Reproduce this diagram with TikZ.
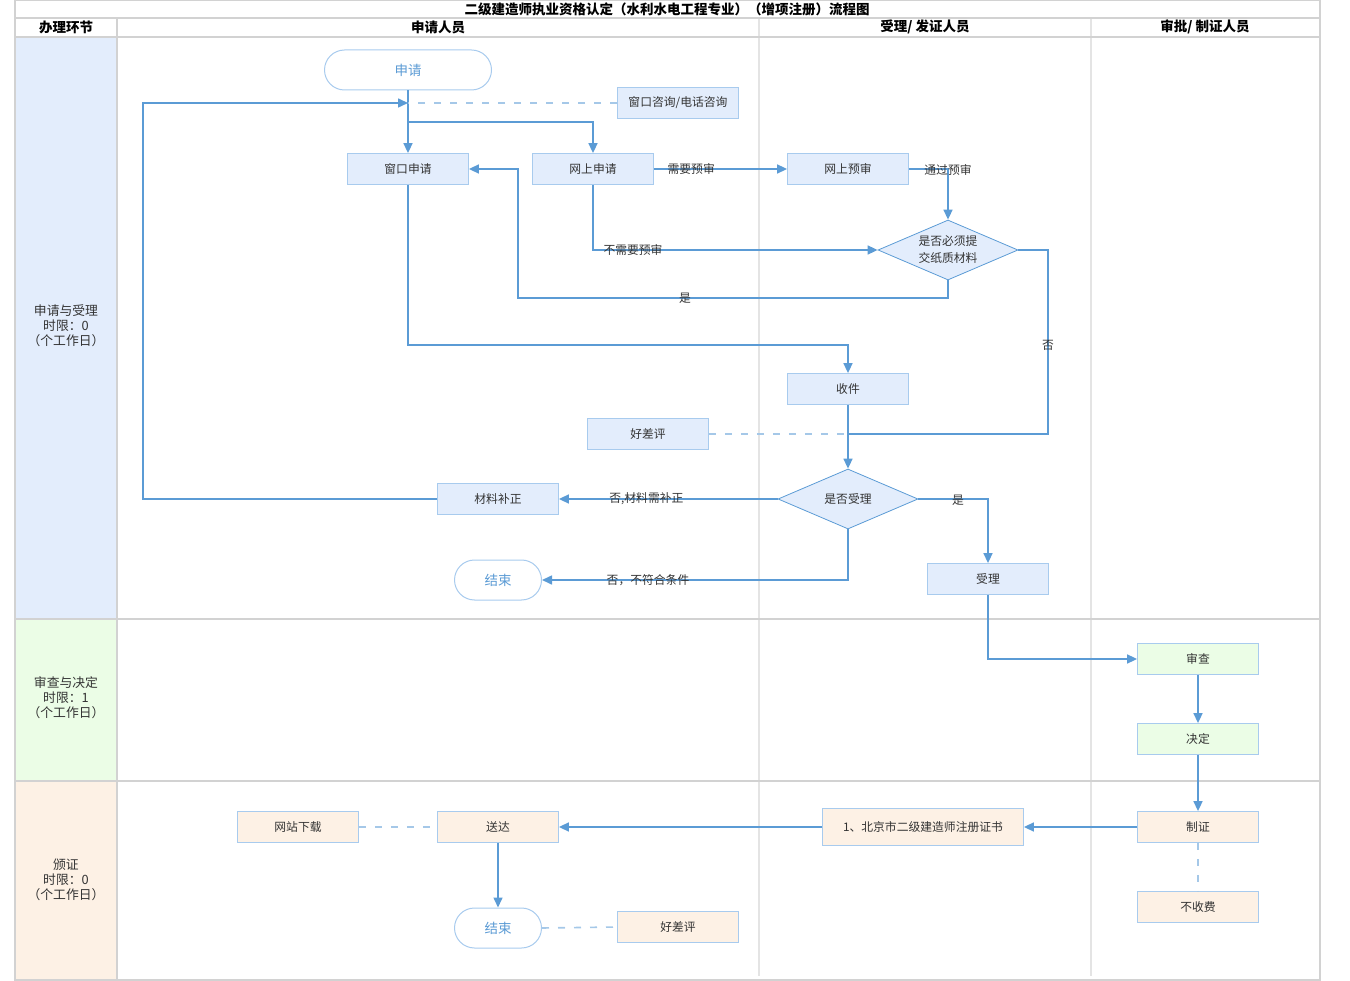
\documentclass[tikz,border=0pt]{standalone}
\usepackage{fontspec}
\setmainfont{Noto Sans CJK SC}
\usetikzlibrary{arrows.meta,shapes.geometric}
\definecolor{lineblue}{HTML}{5B9BD5}
\definecolor{nodeblue}{HTML}{E3EDFC}
\definecolor{borderblue}{HTML}{A8CBEE}
\definecolor{nodegreen}{HTML}{EBFDE6}
\definecolor{nodepeach}{HTML}{FDF1E5}
\definecolor{gridgray}{HTML}{D2D2D2}
\definecolor{gridlight}{HTML}{E4E4E4}
\definecolor{txt}{HTML}{333333}
\begin{document}
\begin{tikzpicture}[x=1pt,y=-1pt,
  box/.style={draw=borderblue, line width=0.8pt, fill=nodeblue, minimum width=121pt, minimum height=31pt, inner sep=0pt, font=\fontsize{11.8}{13}\selectfont, text=txt},
  gbox/.style={box, fill=nodegreen},
  pbox/.style={box, fill=nodepeach},
  term/.style={draw=borderblue, line width=1pt, fill=white, rounded corners=20pt, minimum height=40pt, inner sep=0pt, text=lineblue, font=\fontsize{13.5}{15}\selectfont},
  dec/.style={diamond, shape aspect=2.33, draw=lineblue, line width=0.8pt, fill=nodeblue, minimum width=140pt, minimum height=60pt, inner sep=0pt, align=center, font=\fontsize{11.8}{17}\selectfont, text=txt},
  flow/.style={draw=lineblue, line width=1.6pt, -{Triangle[length=10pt,width=9pt]}},
  plainline/.style={draw=lineblue, line width=1.6pt},
  dashline/.style={draw=lineblue!55, line width=1.6pt, dash pattern=on 7pt off 9pt},
  lbl/.style={font=\fontsize{11.8}{13}\selectfont, text=txt, inner sep=0pt},
  lanelbl/.style={font=\fontsize{12.8}{15}\selectfont, text=txt, align=center, inner sep=0pt},
  head/.style={font=\bfseries\fontsize{13.5}{15}\selectfont, text=black, inner sep=0pt}
]
\useasboundingbox (0,0) rectangle (1350,981);
% lane fills
\fill[nodeblue] (15,37) rectangle (117,619);
\fill[nodegreen] (15,619) rectangle (117,781);
\fill[nodepeach] (15,781) rectangle (117,980);
% grid
\draw[gridlight, line width=1.5pt] (759,18) -- (759,976);
\draw[gridlight, line width=1.5pt] (1091,18) -- (1091,976);
\draw[gridgray, line width=2pt] (117,18) -- (117,980);
\draw[gridgray, line width=2pt] (15,18) -- (1320,18);
\draw[gridgray, line width=2pt] (15,37) -- (1320,37);
\draw[gridgray, line width=2pt] (15,619) -- (1320,619);
\draw[gridgray, line width=2pt] (15,781) -- (1320,781);
\draw[gridgray, line width=2pt] (15,0) rectangle (1320,980);
% headers
\node[head] (title) at (667,9) {二级建造师执业资格认定（水利水电工程专业）（增项注册）流程图};
\node[head] (h0) at (66,27) {办理环节};
\node[head] (h1) at (438,27) {申请人员};
\node[head] (h2) at (925,27) {受理/ 发证人员};
\node[head] (h3) at (1205,27) {审批/ 制证人员};
\node[lanelbl] (l1) at (66,326) {申请与受理\\时限：0\\（个工作日）};
\node[lanelbl] (l2) at (66,698) {审查与决定\\时限：1\\（个工作日）};
\node[lanelbl] (l3) at (66,880) {颁证\\时限：0\\（个工作日）};
% nodes
\node[term, minimum width=167pt] (sq) at (408,70) {申请};
\node[box] (zx) at (678,103) {窗口咨询/电话咨询};
\node[box] (ck) at (408,169) {窗口申请};
\node[box] (ws) at (593,169) {网上申请};
\node[box] (ys) at (848,169) {网上预审};
\node[dec] (d1) at (948,250) {是否必须提\\交纸质材料};
\node[box] (sj) at (848,389) {收件};
\node[box] (hp) at (648,434) {好差评};
\node[dec] (d2) at (848,499) {是否受理};
\node[box] (bz) at (498,499) {材料补正};
\node[term, minimum width=87pt] (js1) at (498,580) {结束};
\node[box] (sl) at (988,579) {受理};
\node[gbox] (sc) at (1198,659) {审查};
\node[gbox] (jd) at (1198,739) {决定};
\node[pbox] (zz) at (1198,827) {制证};
\node[pbox] (bsf) at (1198,907) {不收费};
\node[pbox, minimum width=201pt, minimum height=37pt] (zs) at (923,827) {1、北京市二级建造师注册证书};
\node[pbox] (sd) at (498,827) {送达};
\node[pbox] (xz) at (298,827) {网站下载};
\node[term, minimum width=87pt] (js2) at (498,928) {结束};
\node[pbox] (hp2) at (678,927) {好差评};
% helper coordinates
\coordinate (j1) at (408,122);
\coordinate (lp1) at (143,499);
\coordinate (lp2) at (143,103);
\coordinate (m1) at (408,103);
\coordinate (c1) at (948,169);
\coordinate (c2) at (948,298);
\coordinate (c3) at (518,298);
\coordinate (c4) at (518,169);
\coordinate (c5) at (1048,250);
\coordinate (c6) at (1048,434);
\coordinate (c7) at (848,434);
\coordinate (c8) at (408,345);
% connectors
\draw[flow] (sq.south) -- (ck.north);
\draw[flow] (j1) -| (ws.north);
\draw[flow] (bz.west) -- (lp1) -- (lp2) -- (m1);
\draw[dashline] (zx.west) -- (m1);
\draw[flow] (ws.east) -- node[lbl, pos=0.28] {需要预审} (ys.west);
\draw[flow] (ys.east) -- (c1) -- (d1.north);
\node[lbl] (t1) at (948,170) {通过预审};
\draw[flow] (ws.south) |- (d1.west);
\node[lbl] (t2) at (633,250) {不需要预审};
\draw[flow] (d1.south) -- (c2) -- (c3) -- (c4) -- (ck.east);
\node[lbl] (t3) at (685,298) {是};
\draw[plainline] (d1.east) -- (c5) -- (c6) -- (c7);
\node[lbl] (t4) at (1048,345) {否};
\draw[flow] (ck.south) -- (c8) -| (sj.north);
\draw[flow] (sj.south) -- (d2.north);
\draw[dashline] (hp.east) -- (c7);
\draw[flow] (d2.west) -- node[lbl, pos=0.6] {否,材料需补正} (bz.east);
\draw[flow] (d2.south) |- (js1.east);
\node[lbl] (t5) at (648,580) {否，不符合条件};
\draw[flow] (d2.east) -| (sl.north);
\node[lbl] (t6) at (958,500) {是};
\draw[flow] (sl.south) |- (sc.west);
\draw[flow] (sc.south) -- (jd.north);
\draw[flow] (jd.south) -- (zz.north);
\draw[flow] (zz.west) -- (zs.east);
\draw[flow] (zs.west) -- (sd.east);
\draw[dashline] (xz.east) -- (sd.west);
\draw[flow] (sd.south) -- (js2.north);
\draw[dashline] (js2.east) -- (hp2.west);
\draw[dashline] (zz.south) -- (bsf.north);
\end{tikzpicture}
\end{document}
